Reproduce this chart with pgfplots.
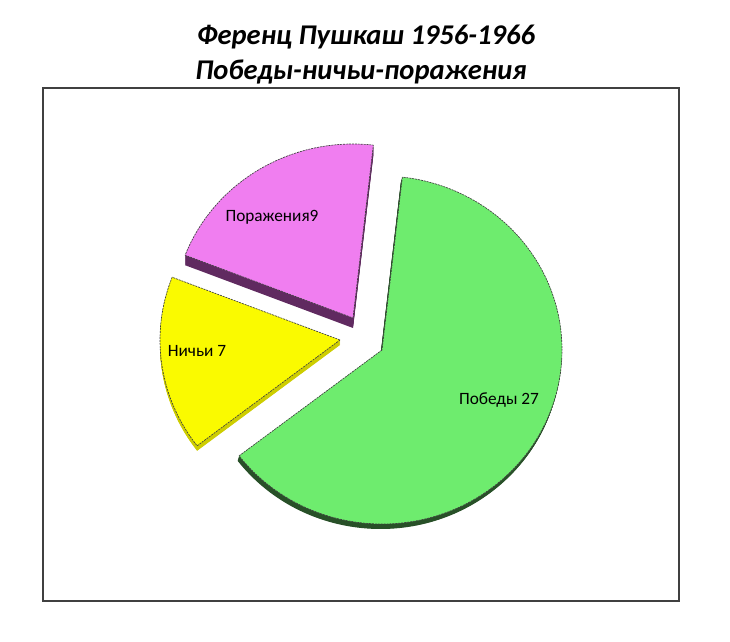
\documentclass[border=0pt]{standalone}
\usepackage{fontspec}
\setmainfont{Carlito}
\usepackage{pgfplots}
\usepackage{pgfplotstable}
\pgfplotsset{compat=1.18}

\definecolor{lossface}{RGB}{240,126,240}
\definecolor{lossside}{RGB}{96,42,96}
\definecolor{drawface}{RGB}{250,250,0}
\definecolor{drawside}{RGB}{205,205,0}
\definecolor{winface}{RGB}{110,236,110}
\definecolor{winside}{RGB}{40,80,40}

% Ferenc Puskas, 1956-1966: losses, draws, wins
\pgfplotstableread{
result value
loss   9
draw   7
win    27
}\results

% one exploded slice with a thin extruded side
% #1,#2 apex  #3,#4 angles  #5 face  #6 side  #7,#8 extrusion offset
\newcommand\pieslice[8]{%
  \foreach \t in {0.1,0.2,...,1.0}{%
    \fill[#6, shift={(axis direction cs:{\t*#7},{\t*#8})}]
      (axis cs:#1,#2) -- ++(axis direction cs:{180*cos(#3)},{174*sin(#3)})
      arc[start angle=#3, end angle=#4, x radius=135bp, y radius=130.5bp] -- cycle;
  }%
  \fill[#5]
    (axis cs:#1,#2) -- ++(axis direction cs:{180*cos(#3)},{174*sin(#3)})
    arc[start angle=#3, end angle=#4, x radius=135bp, y radius=130.5bp] -- cycle;
  \draw[black!75, line width=0.5bp, dash pattern=on 1.5bp off 0.7bp, line join=round]
    (axis cs:#1,#2) -- ++(axis direction cs:{180*cos(#3)},{174*sin(#3)})
    arc[start angle=#3, end angle=#4, x radius=135bp, y radius=130.5bp] -- cycle;
}

\begin{document}
\begin{tikzpicture}[x=0.75bp, y=0.75bp]
\useasboundingbox (0,0) rectangle (730,642);

\pgfplotstablegetelem{0}{value}\of\results \let\vLoss\pgfplotsretval
\pgfplotstablegetelem{1}{value}\of\results \let\vDraw\pgfplotsretval
\pgfplotstablegetelem{2}{value}\of\results \let\vWin\pgfplotsretval
\pgfmathsetmacro\total{\vLoss+\vDraw+\vWin}
\pgfmathsetmacro\aA{83.5}
\pgfmathsetmacro\aB{\aA+360*\vLoss/\total}
\pgfmathsetmacro\aC{\aB+360*\vDraw/\total}
\pgfmathsetmacro\aD{\aC+360*\vWin/\total}

\begin{axis}[
  at={(43,41)}, anchor=south west,
  scale only axis, width=477bp, height=384.75bp,
  xmin=43, xmax=679, ymin=-601, ymax=-88,
  xtick=\empty, ytick=\empty,
  axis line style={draw=black!75, line width=0.9bp},
  clip=false,
]
\pgfplotsextra{%
  \pieslice{353}{-318}{\aA}{\aB}{lossface}{lossside}{0}{-10}
  \pieslice{340}{-340}{\aB}{\aC}{drawface}{drawside}{0}{-5}
  \pieslice{382}{-350}{\aC}{\aD}{winface}{winside}{-1.5}{-5}
}
\node[font=\fontsize{13}{15}\selectfont] at (axis cs:272,-217) {Поражения\vLoss};
\node[font=\fontsize{13}{15}\selectfont] at (axis cs:197,-351) {Ничьи \vDraw};
\node[font=\fontsize{13}{15}\selectfont] at (axis cs:499,-400) {Победы \vWin};

\node[font=\fontsize{21.5}{25}\selectfont\bfseries\itshape] at (axis cs:366,-37) {Ференц Пушкаш 1956-1966};
\node[font=\fontsize{21.5}{25}\selectfont\bfseries\itshape] at (axis cs:361,-72) {Победы-ничьи-поражения};
\end{axis}
\end{tikzpicture}
\end{document}
